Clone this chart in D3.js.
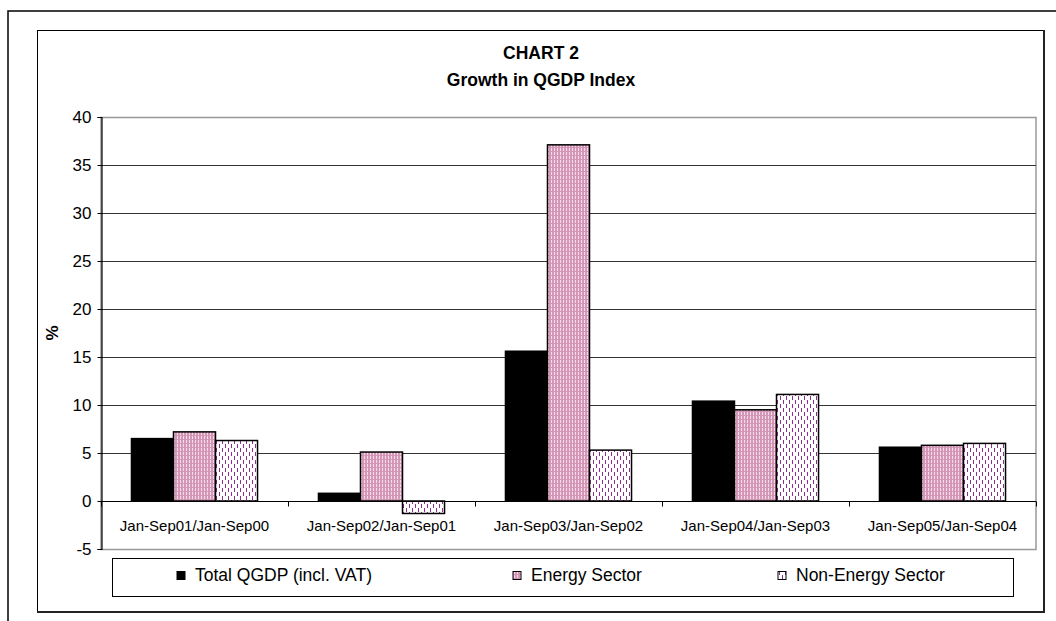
<!DOCTYPE html>
<html>
<head>
<meta charset="utf-8">
<script src="https://cdn.jsdelivr.net/npm/d3@7"></script>
<style>
  html, body { margin: 0; padding: 0; background: #fff; }
  svg { display: block; font-family: "Liberation Sans", Arial, sans-serif; }
</style>
</head>
<body>
<svg id="chart" width="1056" height="621"></svg>
<script>
// Period-on-period growth of the quarterly GDP index, in per cent
const categories = [
  "Jan-Sep01/Jan-Sep00",
  "Jan-Sep02/Jan-Sep01",
  "Jan-Sep03/Jan-Sep02",
  "Jan-Sep04/Jan-Sep03",
  "Jan-Sep05/Jan-Sep04"
];
const seriesNames = ["Total QGDP (incl. VAT)", "Energy Sector", "Non-Energy Sector"];
const totalQGDP = [6.5, 0.8, 15.6, 10.4, 5.6];
const energySector = [7.2, 5.1, 37.1, 9.5, 5.8];
const nonEnergySector = [6.3, -1.3, 5.3, 11.1, 6.0];
const yTicks = [-5, 0, 5, 10, 15, 20, 25, 30, 35, 40];

const seriesValues = [totalQGDP, energySector, nonEnergySector];

const svg = d3.select("#chart");

// Fill patterns
const defs = svg.append("defs");
const pink = defs.append("pattern")
  .attr("id", "energyFill").attr("patternUnits", "userSpaceOnUse")
  .attr("width", 3).attr("height", 4);
pink.append("rect").attr("width", 3).attr("height", 4).attr("fill", "#d496b6");
pink.append("rect").attr("x", 1).attr("y", 0).attr("width", 1).attr("height", 3).attr("fill", "#f4dce8");

const dots = defs.append("pattern")
  .attr("id", "nonEnergyFill").attr("patternUnits", "userSpaceOnUse")
  .attr("width", 6).attr("height", 8);
dots.append("rect").attr("width", 6).attr("height", 8).attr("fill", "#ffffff");
dots.append("rect").attr("x", 1).attr("y", 0).attr("width", 1).attr("height", 4).attr("fill", "#8e2f8e");
dots.append("rect").attr("x", 4).attr("y", 4).attr("width", 1).attr("height", 4).attr("fill", "#8e2f8e");

const fills = ["#000000", "url(#energyFill)", "url(#nonEnergyFill)"];

// Frames
svg.append("path").attr("d", "M8,621 V11 H1056")
  .attr("fill", "none").attr("stroke", "#000").attr("stroke-width", 1.5);
svg.append("rect").attr("x", 37.5).attr("y", 30.5).attr("width", 1006).attr("height", 581)
  .attr("fill", "#fff").attr("stroke", "#000").attr("stroke-width", 1);
svg.append("path").attr("d", "M1044,30 V612 H37")
  .attr("fill", "none").attr("stroke", "#222").attr("stroke-width", 2);

// Title
svg.append("text").attr("x", 541).attr("y", 59).attr("text-anchor", "middle")
  .attr("font-size", 17.5).attr("font-weight", "bold").text("CHART 2");
svg.append("text").attr("x", 541).attr("y", 86).attr("text-anchor", "middle")
  .attr("font-size", 17.5).attr("font-weight", "bold").text("Growth in QGDP Index");

// Scales
const plotLeft = 101, plotRight = 1036, plotTop = 117, plotBottom = 549;
const x = d3.scaleBand().domain(categories).range([plotLeft, plotRight]).padding(0);
const xInner = d3.scaleBand().domain(d3.range(seriesNames.length))
  .range([0, x.bandwidth()]).paddingInner(0).paddingOuter(0.725);
const y = d3.scaleLinear().domain([-5, 40]).range([plotBottom, plotTop]);

// Plot area border and gridlines
svg.append("rect").attr("x", plotLeft).attr("y", plotTop + 0.5)
  .attr("width", plotRight - plotLeft).attr("height", plotBottom - plotTop)
  .attr("fill", "none").attr("stroke", "#999").attr("stroke-width", 1.5);
svg.append("g").selectAll("line")
  .data(yTicks.filter(t => t > 0 && t < 40))
  .join("line")
  .attr("x1", plotLeft).attr("x2", plotRight)
  .attr("y1", d => Math.round(y(d)) + 0.5).attr("y2", d => Math.round(y(d)) + 0.5)
  .attr("stroke", "#333").attr("stroke-width", 1);

// Bars
const groups = svg.append("g").selectAll("g")
  .data(categories)
  .join("g")
  .attr("transform", d => `translate(${x(d)},0)`);
groups.selectAll("rect")
  .data((c, i) => seriesValues.map((vals, s) => ({ s, v: vals[i] })))
  .join("rect")
  .attr("x", d => xInner(d.s))
  .attr("width", xInner.bandwidth())
  .attr("y", d => y(Math.max(0, d.v)))
  .attr("height", d => Math.abs(y(d.v) - y(0)))
  .attr("fill", d => fills[d.s])
  .attr("stroke", "#000").attr("stroke-width", 1.5);

// Zero line with category ticks
const zeroY = Math.round(y(0)) + 0.5;
svg.append("line").attr("x1", plotLeft).attr("x2", plotRight)
  .attr("y1", zeroY).attr("y2", zeroY).attr("stroke", "#000").attr("stroke-width", 1.2);
const xAxis = d3.axisBottom(x).tickSize(0).tickPadding(0);
const xg = svg.append("g").attr("transform", `translate(0,${zeroY})`).call(xAxis);
xg.select(".domain").remove();
xg.selectAll("text").attr("font-size", 15).attr("fill", "#000")
  .attr("dy", 0).attr("y", 29).attr("font-family", "Liberation Sans, Arial, sans-serif");
svg.append("g").selectAll("line")
  .data(categories.map(c => x(c)).concat([plotRight]))
  .join("line")
  .attr("x1", d => Math.round(d) + 0.5).attr("x2", d => Math.round(d) + 0.5)
  .attr("y1", zeroY).attr("y2", zeroY + 5)
  .attr("stroke", "#000").attr("stroke-width", 1);

// Value axis
const yAxis = d3.axisLeft(y).tickValues(yTicks).tickFormat(d => String(d))
  .tickSize(4).tickPadding(6);
const yg = svg.append("g").attr("transform", `translate(${plotLeft + 0.5},0)`).call(yAxis);
yg.select(".domain").attr("stroke", "#000").attr("stroke-width", 1.2);
yg.selectAll(".tick line").attr("stroke", "#000");
yg.selectAll("text").attr("font-size", 17).attr("fill", "#000")
  .attr("font-family", "Liberation Sans, Arial, sans-serif");

svg.append("text")
  .attr("transform", `translate(58,${(plotTop + plotBottom) / 2}) rotate(-90)`)
  .attr("text-anchor", "middle").attr("font-size", 17).attr("font-weight", "bold").text("%");

// Legend
svg.append("rect").attr("x", 112.5).attr("y", 558.5).attr("width", 901).attr("height", 38)
  .attr("fill", "#fff").attr("stroke", "#000").attr("stroke-width", 1);
const legendSwatchX = [177, 513, 778];
const legend = svg.append("g").selectAll("g")
  .data(seriesNames)
  .join("g")
  .attr("transform", (d, i) => `translate(${legendSwatchX[i]},571)`);
legend.append("rect").attr("width", 8).attr("height", 8).attr("y", 0.5)
  .attr("fill", (d, i) => fills[i]).attr("stroke", "#000").attr("stroke-width", 1);
legend.append("text").attr("x", 18).attr("y", 10).attr("font-size", 17.5).text(d => d);
</script>
</body>
</html>
